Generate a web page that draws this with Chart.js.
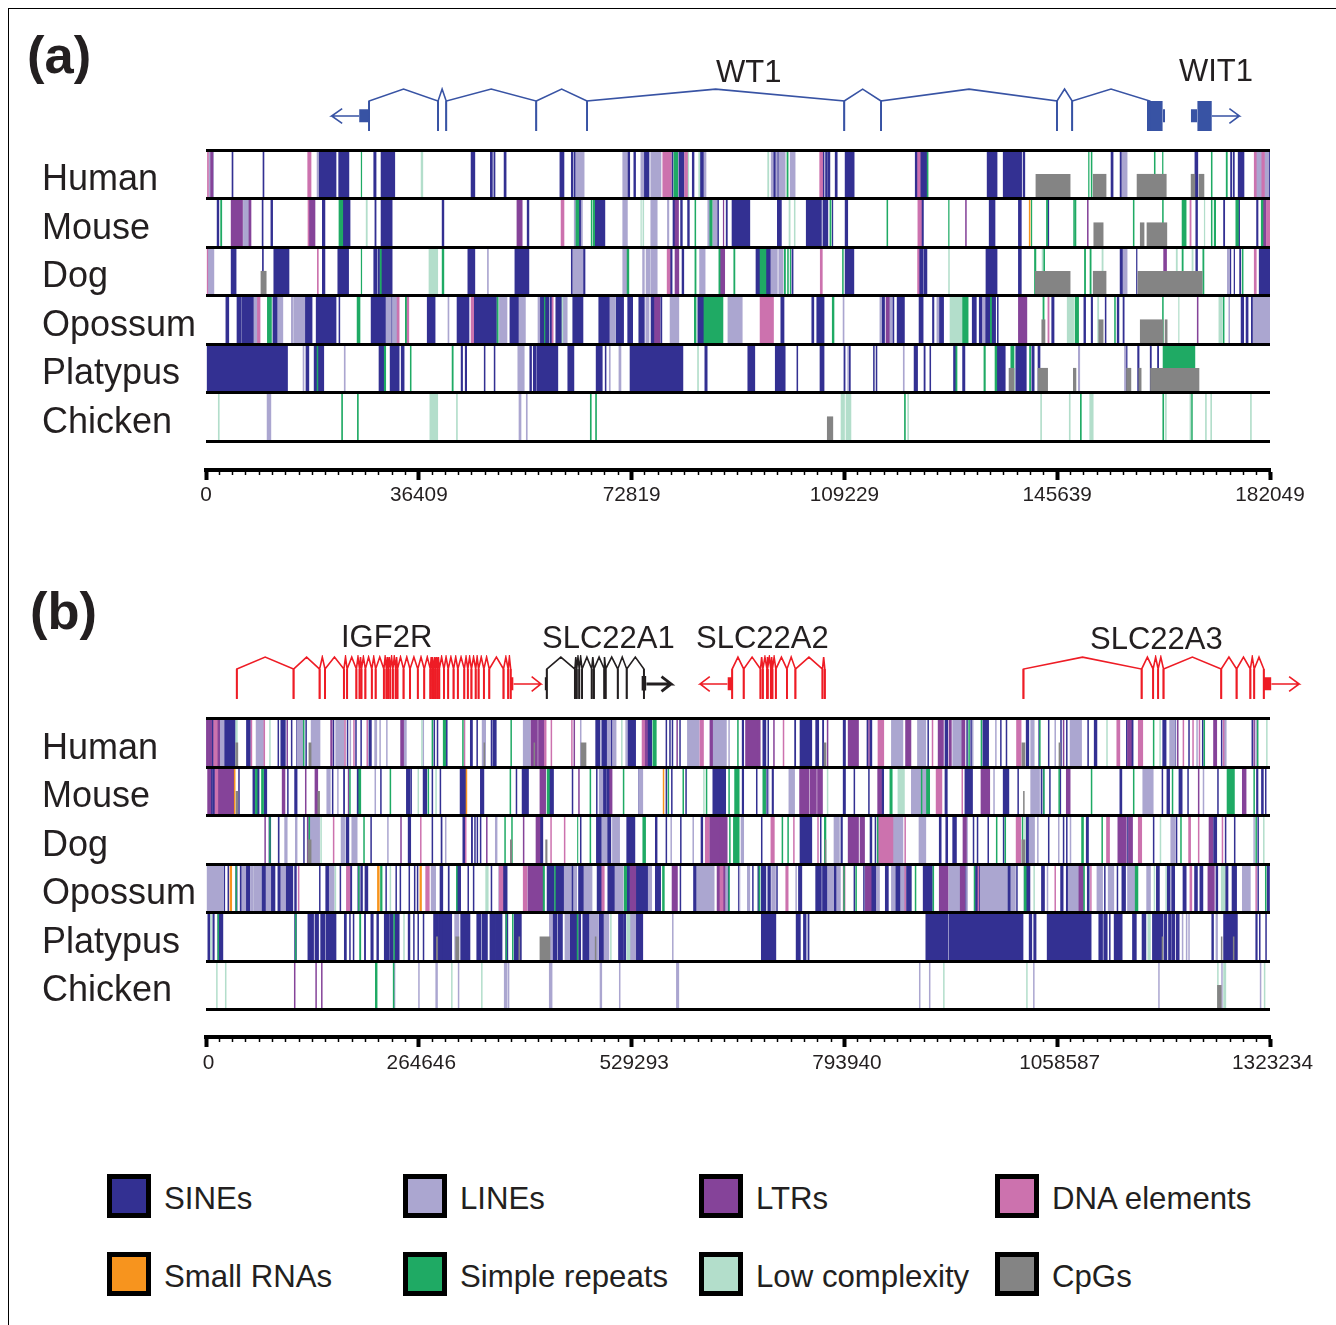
<!DOCTYPE html>
<html><head><meta charset="utf-8">
<script src="https://cdn.jsdelivr.net/npm/chart.js@4/dist/chart.umd.min.js"></script>
<style>
html,body{margin:0;padding:0;background:#fff;width:1336px;height:1325px;overflow:hidden;font-family:"Liberation Sans",Arial,sans-serif;color:#231f20}
canvas{position:absolute}
.t{position:absolute;white-space:nowrap;line-height:1;transform:translateY(-50%)}
.s{position:absolute;width:34px;height:34px;border:5px solid #000}
#frame{position:absolute;left:8px;top:8px;right:-2px;bottom:-2px;border-left:1px solid #000;border-top:1px solid #000}
</style></head><body>
<div id="frame"></div>
<script>
// ---- categories ----
const species=['Human','Mouse','Dog','Opossum','Platypus','Chicken'];
const repeatTypes=['SINEs','LINEs','LTRs','DNA elements','Small RNAs','Simple repeats','Low complexity','CpGs'];
const repeatColors=['#333092','#aba6d0','#854399','#cc72ae','#f7941e','#1faa64','#b3decb','#848484'];
const ticksA=[0,36409,72819,109229,145639,182049];
const ticksB=[0,264646,529293,793940,1058587,1323234];
// Positions in kb. A number is a single narrow element, a pair is [start,end].
// ---- panel (a) ----
const aHumanSINE=[4.45,9.75,[19.3,22.25],[22.7,24.45],[28.7,29.1],[29.95,32.3],[45.35,46],[48.65,49],[49.25,49.45],[51,51.35],[60.55,61.25],[62.5,62.8],[63,63.25],[72.1,72.5],[73.2,73.5],[74.9,75.8],[79.7,79.9],[80.9,81.8],[83.2,83.5],[84.5,85.2],[97.05,97.5],[97.7,98],[105.5,105.75],[106,106.3],[106.4,106.75],[107.65,108],[109.35,110.9],[121.35,121.75],[122.2,123.3],[133.65,135.35],[136.4,139.55],[139.8,140.1],[154.85,155.2],[156.4,156.7],[169.2,169.7],[175.3,175.5],[175.75,175.95],[176.6,177.6],[181.85,182.05]];
const aHumanLINE=[[.5,1.3],[19,19.25],[63.25,64.7],[71.3,72.1],[74.4,74.9],[76.1,77.85],[85.2,85.55],[96.7,97.05],[97.5,97.75],[98,99.1],[99.95,100.8],[156.7,157.6],[179.7,180.65],[181.1,181.85]];
const aHumanLTR=[[.8,1.17]];
const aHumanDNA=[.25,[17.4,17.97],[78.15,79.6],[81.9,82.5],[105,105.5],[121.75,122.2],[179.35,179.7],[180.65,181.1]];
const aHumanSimple=[[26.55,26.65],[80.05,80.7],[99.4,99.6],[123.4,123.55],[151,151.1],[151.45,151.6],[162.25,162.4],[163.65,163.75],[172,172.15],[174.55,174.75]];
const aHumanLow=[[36.8,37.1],[82.5,82.6],[84.3,84.5],[96.1,96.3]];
const aHumanCpG=[[142,147.85],[151.8,154],[159.3,164.3],[168.55,169.2],[169.9,170.75]];
const aMouseSINE=[[1.9,2.2],9.6,[11.1,11.4],[19.9,20.35],[23.4,24.65],[28.9,29.1],[29.95,31.85],[40.4,40.7],[54.95,55.25],[63.8,64.2],[66.55,68.25],[79.9,80.25],[81.2,81.5],[82.4,82.7],[87.5,87.7],[89,89.2],[90,93.05],[97.75,98.45],[102.7,105.3],[105.55,106.4],[107.15,107.25],[109.35,109.8],[122.4,122.75],[134,135],[139,139.5],[144.05,144.2],[169.35,169.65],[174.1,174.3],[176.65,176.85],[179.75,180]];
const aMouseLINE=[[6.4,7.35],[63,63.3],[64.2,64.4],[71.3,72.1],[76.1,77.2],[78.95,79.2],[85.85,86.2],[86.7,87.45]];
const aMouseLTR=[[4.3,6.25],[7.35,7.7],[17.6,18.65],[53.2,54.1],[80.25,80.85],[88.5,88.6],[129.95,130.1],[150.8,150.95],[180.9,181.4]];
const aMouseDNA=[[17.45,17.6],[60.75,61.25],[121.8,122.4],[168.35,168.55],[181.45,182.05]];
const aMouseSmall=[[140.85,141]];
const aMouseSimple=[[2.5,2.7],[22.75,23.4],[63.3,63.8],[65.9,66.05],[66.25,66.5],[83.65,83.8],[86.2,86.6],[106.75,106.95],[116.5,116.65],[127.05,127.15],[141.2,141.3],[143.8,144],[148.45,148.6],[148.7,148.85],[158.65,158.8],[163.65,163.8],[167,167.7],[172,172.15],[172.5,172.75],[176.2,176.65],[180.55,180.85]];
const aMouseLow=[[27.4,27.6],[74.4,74.5],[74.75,74.9],[99.75,99.95],[100.65,100.8],[170.8,170.9]];
const aMouseCpG=[[151.9,153.5],[159.85,160.5],[161,164.4]];
const aDogSINE=[[4.3,5.15],9.65,[11.6,14.2],[19.9,20.35],[22.55,24.4],[28.7,29.2],[29.4,29.7],[30,31.85],[44.8,46],[52.85,55.25],[62.5,62.75],[64.5,64.85],[79.4,79.75],[81.45,81.75],[94.1,94.8],[95.8,96.65],[100.25,100.45],[109.35,110.85],[122,122.7],[122.85,123.35],[133.45,135.35],[139,139.5],[156.4,156.9],[159.2,159.3],[169.35,169.65],[175.2,175.35],[175.9,176],[176.85,177.05],[180.2,182.05]];
const aDogLINE=[[.4,1.35],48.15,[62.75,64.5],[71.3,72.05],[74.7,75],[75.3,76],[76.15,77.2],[84.45,85.4],[96.65,97.75],[98,98.75],[156.9,157.6],[174.75,175.15]];
const aDogLTR=[[80.25,80.9],[87.9,88.75],[163.85,164.35]];
const aDogDNA=[[.2,.3],19.05,[78.9,79.4],[105.1,105.45],[121.75,122],[179.35,179.7]];
const aDogSimple=[[26.55,26.65],[29.8,30],[40.4,40.7],[72.05,72.35],[83.65,83.85],[87.75,87.95],[90.3,90.5],[94.8,95.8],[98.95,99.15],[99.5,99.65],[99.95,100.05],[108.9,109.05],[141.75,142],[143.3,143.5],[150.3,150.5],[151.25,151.45],[167,167.2],[170.55,170.75],[177.3,177.45]];
const aDogLow=[[38.15,39.65],[127.05,127.2],[143.05,143.2],[153.3,153.5],[166,166.2],[168.7,168.9]];
const aDogCpG=[[9.4,10.3],[141.9,147.85],[151.8,154],[159.45,170.45]];
const aOpossumSINE=[[3.4,3.9],[5.3,6.05],[6.2,8.2],[11.45,12.2],[16.9,18.15],[18.85,22.25],[22.75,22.9],[28.25,30.8],[31.7,31.9],[37.85,39.2],[42.95,45],[45.8,49.7],[52,53.55],[57.15,57.9],[58,58.7],[58.9,59.15],[59.85,60.9],[62.75,64.5],[67.2,69.1],[70.15,71.45],[72.15,73],[74.05,75],[76.15,76.75],[77.8,78],[84.15,85.2],[98.35,98.9],[103.65,104],[104.5,105.75],[115.6,116.1],[117.5,117.7],[118.25,119.5],[122,122.7],[124.3,124.55],[125.4,126.2],[131.1,131.8],[132.3,132.85],[133.3,134.2],[134.4,135.1],[135.4,135.55],[144.7,145.1],[150.2,150.5],[151.45,151.7],[153.85,154],[155.9,156.2],[156.9,157.1],[177.1,177.55],[177.95,178.3],[178.85,179.15]];
const aOpossumLINE=[[8.2,8.8],[12.35,13.15],[14.6,14.85],[15,16.9],[30.8,31.7],[31.9,32.7],41.4,[50.2,51.5],[53.55,54.65],[56.8,57.1],[61.05,61.8],[69.1,70],[75.25,75.8],[79.4,80.9],[89.3,91.75],[115.3,115.6],[116.9,117.35],[125.05,125.4],[132.85,133.3],109,[175,175.15],[179.15,182.05]];
const aOpossumLTR=[[76.75,77.65],[116.35,116.9],[139,140.45],[169.6,169.75]];
const aOpossumDNA=[[8.8,9.25],[32.7,33.05],[34.3,34.7],[45.35,45.8],[59.2,59.4],[94.8,95.15],[95.15,97.1],[144.05,144.25]];
const aOpossumSimple=[[10.5,11.2],[25.85,26.35],[34.1,34.3],[49.8,50],[57.9,58],[83.55,83.85],[85.2,88.45],[107.15,107.45],[129.35,130.4],[134.2,134.4],[143.2,143.4],[148.7,149.3],[155.45,155.6],[163.65,163.8],[174.05,174.2]];
const aOpossumLow=[[60.9,61.05],[127.3,129.35],[147.35,148.45],[152.55,152.75],[166.4,166.5],[173.3,173.9]];
const aOpossumCpG=[[143,143.55],[152.75,153.5],[159.85,163.75],[164.1,164.45]];
const aPlatypusSINE=[[.2,13.95],[17.1,17.6],[18.5,20.15],[29.6,30.45],[31.5,32],[32.05,33.05],[33.4,33.9],[43.65,43.9],[44.35,44.6],[47.6,47.75],[49.3,49.45],[55.4,55.7],[56,56.5],[56.65,60.2],[61.9,62.95],[66.75,67.8],[68.3,68.45],[72.55,81.6],[85.35,85.75],[92.7,93.9],[97.4,99.1],[101.1,101.25],[105.05,105.75],[109.15,109.35],[110.05,110.25],[114.2,114.35],[114.65,114.8],[121.15,121.75],[122.85,123.05],[123.85,124],[127.9,128.3],[129.45,129.85],[135.3,136.75],[138.55,140.35],[141.3,141.7],[142.35,142.7],[157.4,157.6],[159.4,159.65],[161.55,161.75],[162.8,163]];
const aPlatypusLINE=[16.6,23.65,[53.35,54.45],69,[70.65,71],119.3,[109.8,109.95],[149.25,149.5],[157.15,157.4]];
const aPlatypusSimple=[[19,19.15],[30.5,30.75],[34.95,35.1],[42.1,42.3],[128.3,128.5],[133.1,133.35],[135,135.3],[137.7,138.25],[140.9,141.1],[163.75,169.2]];
const aPlatypusLow=[84.1];
const aPlatypusCpG=[[137.4,138.25],[142.35,144],[148.4,148.85],[157.5,158.25],[159.6,160],[161.6,169.9]];
const aChickenLINE=[[10.45,11.1],[53.55,53.9],54.8];
const aChickenSimple=[23.2,25.9,65.75,66.65,119.5,149.6,163.7,168.6];
const aChickenLow=[2.1,[38.3,39.65],42.85,[108.65,109.25],[109.5,110.35],120.05,142.8,147.7,151.2,[151.45,151.8],164.15,168.35,171,171.9,178.7];
const aChickenCpG=[[106.3,107.25]];
// ---- panel (b) ----
const bHumanSINE=[[7,9.5],[22.5,36.5],[50.3,55.2],89.4,[93,98.7],106,112.4,124,158,175.5,186,192.4,[202.6,205.7],283.4,287.4,[298,300],[328.7,331.4],336.7,354.5,[356.7,361],[484.6,490],[492.2,498.4],[503.3,505.5],[524.6,534.3],[549,554.3],572,576.5,579.6,589,[666.8,668.7],[692.5,696.3],698.7,[732,733.4],[738.7,753.4],[758.2,762],[766.7,768.2],[792.4,795.3],822,[825.8,828.1],897.6,[919,922.4],946,951,[966.1,973.3],988,995,[1020,1023.3],1035.6,1047.5,1062.8,1070,1096.5,[1104.6,1108],1144.6,[1150.8,1153],[1189.8,1194],1205,1222,1239,1262.6,1300.7];
const bHumanLINE=[[17,22.5],[62.3,71.6],[112.9,120.4],[130.7,141.8],[161.3,172],179,[209.7,212.4],216,224.4,269.7,[245.7,249.2],[343.4,347.8],[394.5,403.3],465.5,[499,503.3],[505.5,510],522,[598.7,613.4],[630,647.2],650,[852.4,866.7],[884.8,895.2],[928.6,940],953,981.8,[1025.6,1030],1055.6,[1074.6,1088.9],[1198.4,1205.5],1232,[1266,1268.8],1305.5];
const bHumanLTR=[[.5,3],[3,7],[14,17],100.5,[155,156.9],[242,245.7],[404.2,412.2],[413.5,420.6],457.5,[545.4,549],585.4,[626.7,630],[671,689],[686.8,689],705.8,772.5,[798.6,811.5],824,[870,876.7],[910.5,917.1],[924,927],[940,943.8],1066,[1146,1150.8],1208,[1253,1257],1303];
const bHumanDNA=[[9.5,14],56,72,172.4,183.5,200,321,[421,423],429,454.5,[542.3,545.4],[614.3,618.7],717.7,[835.7,842.9],903,[1008,1013.7],[1132.7,1136.5],[1159.4,1165],1215,1227,1235,1265];
const bHumanSimple=[121,281,[295,298],319,379,[555.7,560],661,948.5,963.8,1036.5,1178,1241,1307.4];
const bHumanLow=[[37,39],79,268,516.6,1120,1186,1318.8];
const bHumanCpG=[[37,39.6],[128,130.7],345.6,407.8,[466.4,472.6],[768.6,771],[1014.7,1018.5],[1060.8,1062.3]];
const bMouseSINE=[[6,8],[8.5,11.2],40.5,[58.3,60.5],[63.6,66],[72.5,75.6],101.3,[110.2,113.3],157,[171,172.4],[188,191.5],217,[249.2,253.7],254.6,[270,274.5],281,291,[316,323.4],[341.2,345.6],385.6,[393.1,401.1],[427,432.2],455.3,485.5,[494,498],[499,503],[537.9,539.5],572,578.8,596.5,[630.3,645.4],[639.2,646.3],[666.8,668.7],684.4,[697.3,699],[704,705.8],[792.4,795.3],805.8,823.9,[840,842.8],[919,921.9],[943.8,953.3],[991.4,998.5],1009.5,1038.5,1041,1049,1062,[1136.5,1139],1188.9,[1195,1198.4],[1210,1214],1220.8,1258,[1306.4,1308.3],[1312.6,1315],1317.4];
const bMouseLINE=[[150.2,154.6],163.5,210,[489,493.5],[537.9,543.2],699,[724.9,732],[877.2,889],[891,896],979.5,[1025.6,1036.6],[1165,1178],1240];
const bMouseLTR=[[2,6],[14.7,34.7],[94.7,98.2],123.5,[135.5,139],176.8,[415.3,422.4],463.3,[502,505],[738.2,749.6],[751,759.1],[760.5,766.7],[835.3,840],[963.8,974.7],[1069.9,1074.7],1234,[1288.8,1293.5]];
const bMouseDNA=[[11.2,14.7],[908,915.2],940];
const bMouseSmall=[35.2,323.4,568.5];
const bMouseSimple=[[61.4,63.6],[69,71.6],178.5,[190,192.5],228.8,276,378,[424.2,427],477.5,518.8,574.5,593,622,[657.4,663.1],650,[692.5,696],[850.5,853.4],889.5,[896,900],1041.5,1060.5,1100.8,1153.2,1201.5,[1269.8,1279],1303];
const bMouseLow=[263.5,285.6,618.7,772.5,[860.5,868.6]];
const bMouseCpG=[[37.4,39.6],[139,141.3],1016.6];
const bDogSINE=[[78.3,80.5],[89.8,91],121.3,[174.2,177.7],204.8,[251.4,254.6],281,[292.3,293.6],[319.4,322],[330,331.5],[334,335],[337,338],341,[415.3,418.9],465.5,[485.5,492.2],[498.8,503.5],[523.2,533.4],[558.8,561],572,590,[615.6,617.8],690.6,[738.7,753.4],764,[789.6,791.5],[825.8,828.1],832,[911.9,914.3],[920,922.4],[928.6,933.3],954,959,972.3,991.4,1008,[1020,1023.3],1047.5,1066,1070,[1094.7,1097.5],1146,1178,1206.5,[1253,1257],1267.5,1278.8,1308];
const bDogLINE=[[97.8,101],[111.1,113.3],[125.8,141.3],[168,172.4],[181.3,188],225.7,297.6,[359.8,362],[492.2,498.8],[505.5,514.4],578,605.4,[665.4,668.7],[781,787.7],[854.3,866.7],[886.7,895.2],946,[1023.7,1030.4],1034,1060,1074.6,[1199.8,1205.5],[1303,1304]];
const bDogLTR=[73,[126,127],242,348.7,394.5,[410.4,415.3],[626.3,648],[639,647.8],[798.6,811.5],[813.4,819],[941.4,945.7],[1134,1144.6],[1147.3,1152.3],[1247.4,1252]];
const bDogDNA=[158.2,266.6,322.5,[620.9,625.4],[702.5,706.8],730.6,760.6,[836.2,854.3],869,428.6,445.5,[1007.5,1013.3],[1119.9,1123.7],[1159.4,1163.7],[1222,1224.5],1234,1263.6];
const bDogSimple=[[79,80],[128,129],196,371.4,380,[462,462.5],477.5,[543.2,546.7],[656,663.1],651,[656.3,659.2],716.3,723.4,[769,771],834.8,982.8,993.5,1015,[1088.9,1091.3],1114,1212,1305.5];
const bDogLow=[142.6,1018,1186.5,1315];
const bDogCpG=[[126.7,130.7],[378.5,380.2],[422.4,424.2],[770,771],[1014.7,1018.5]];
const bOpossumSINE=[22.3,27.2,[37,38.7],[42.5,44],[49.4,54.7],[69.4,74.7],[80.5,85.8],[89.4,93],[99,108],[110.2,112.4],141,[148.9,153.3],166.6,[179,181.3],[188.8,190.5],[192.4,194.6],[197.7,201.3],223.5,236,241.2,252.3,259,262.6,[291,294.5],[301.2,302.5],[312.3,316.7],325.6,332.3,354.5,[369.2,374.5],[424.2,433.1],[434.4,445.5],[454.4,456.7],[463.3,470],[486.4,492.2],[499.7,508.6],[523.2,526.8],[535.2,549.4],[558.8,565.4],589.5,[606.3,609.8],649,648.7,662,679.6,686.3,[690.6,696.3],[698.7,702],709.6,[736.8,741],[758.2,765.3],[766.7,772.5],[781,784.3],805.8,817.7,[827.2,833.4],[844.8,848.6],[857.2,863.8],[870.5,877.2],[891.9,903.3],[944.7,945.7],957.1,[957.1,962.8],[997,1000.9],1008,[1017.5,1024.7],[1039,1042.8],[1062.8,1066],[1069.9,1072.3],[1096,1098.4],1117.3,1133,[1139,1143.6],[1181.9,1185.7],[1195.2,1199],[1200.9,1204.7],[1215,1219],[1229.4,1233],[1236,1239.8],[1256,1258.3],[1267.4,1271],[1276,1281.7],1308,[1319.7,1322.6]];
const bOpossumLINE=[[1.4,21],[45,49.4],[55.6,58.3],[59.2,68],[74.7,80.5],[93,99],[153.3,159.5],[280,285.6],[364,367],[445.5,454.4],[458,461],[470,480.1],[508.6,518.8],[550,554.3],[610.7,632],663,673.3,[643,648.7],[673.5,676.3],[703.4,708.2],733.4,[773.9,780.5],[784.3,789],[834.3,837.6],[852.4,857.2],[863.8,870.5],[923.8,938],946,[962.8,972],[970.9,996.1],[1000.9,1006.6],1046,[1072.3,1085.6],[1108,1115],[1122,1129],[1146,1155.6],[1169.8,1174.6],[1288.8,1298.8]];
const bOpossumLTR=[[400.2,418.9],[527.7,534.4],[579.6,586.3],[635.6,645.4],[820,827.2],[911.9,922.8],[938,943.8],[1085.6,1091.3],[1246,1254]];
const bOpossumDNA=[[174.6,179],114.7,[273.2,277.7],[364.7,369.2],[394.5,399],[492.2,495.3],[639.2,643],[721,724],[792.4,794.8],869,960,1055.6,[1100,1101],[1223.6,1226],1305.5];
const bOpossumSmall=[[29.8,32],[213.2,215.5],[266,268]];
const bOpossumSimple=[37,189.5,[217,219],311.4,[419.3,421],433.5,[520.1,523.2],[567.7,570],650,[687.6,689],808,955.2,881.9,904,[1017.5,1020],[793,794],1091.5,[1155.6,1159],1317.4];
const bOpossumLow=[160.4,228.8,[347.8,351],1029.4,1179,1193.5,[1262.6,1267.4]];
const bPlatypusSINE=[[2.3,5],[8.5,10.3],[14.7,21],[110.2,112.4],[126.7,133.8],[135.5,140],[142.6,148],[149.3,161.7],[172,174.6],178.5,183,[197,198.5],205,[205.7,208],[212.4,214.6],[221.7,228],[228.8,233],[234.6,240.3],[251.4,253.6],258,263.4,270,[283,289.2],[289.2,294.5],[294.5,305.6],[316.7,328.3],[336.7,342],[343.4,350],[353.1,360.2],[360.2,368.2],[372.7,375.4],[383.3,392.2],[428,431],[431.4,436.6],[438,443.3],[452.7,461],[463.3,466],[468.6,476.6],[489,494.6],[513,518.4],[519.2,522],[534.4,543.2],[690.6,708.7],[733.9,739.2],[743,746.3],[748.6,750],[895.2,922.4],[923.8,1016.1],[1023.7,1027],[1029.4,1032.3],[1046.1,1100.8],[1110.3,1115],[1116.5,1120.8],1123.5,[1129.4,1139.4],[1152.2,1157],[1164.1,1168.9],[1177,1189.8],[1191.3,1195],[1197,1199.8],[1200.9,1204.7],[1206.5,1210.3],[1250.8,1253],[1280,1282],[1265.5,1282.6],[1305.5,1307.4],1310,1317.8];
const bPlatypusLINE=[[309.2,314.5],[427,431],[446.4,452.2],[477.5,488.1],[495,501],[527.2,534.4],580,1214,1219,1222,[1256,1258]];
const bPlatypusSimple=[14.7,111,[191,192.5],233.5,[373,374],381,461.5];
const bPlatypusLow=[5.8,245.7,503,[523.2,527.2],[1171.3,1174.6]];
const bPlatypusCpG=[[286.5,288],[310.5,314.5],[389,390.2],[415.3,427.8],484,1189,1262.6,1277.5];
const bChickenLINE=[234,264.3,[285.7,287.9],313.6,[370.9,374.5],375.8,[426.9,430.4],[490,492.2],514,[585,588],887.1,899.5,1029,1184.6,1263,1311];
const bChickenLTR=[109.8,136.4,143.5];
const bChickenSimple=[[210.6,212.8],232.8];
const bChickenLow=[13,24,305.2,342.5,917.1,1020.4,1257.9,[1265.5,1268.3],1316];
const bChickenCpG=[[1257.9,1262.6]];
// ---- gene models (kb) ----
const wt1Exons=[27.9,39.7,41.1,56.5,65.2,109.2,115.5,145.6,148.2,161.5];
const igf2rExons=[38.3,108.9,141.3,148,171.5,175.5,187,191,193.3,198.2,206.2,211,221.2,224.4,226.6,229.2,232.4,235.9,238.1,245.7,253.7,263.4,271.4,279,281.2,283.4,285.6,287.9,290.1,295.9,301.2,307.9,313.2,321.2,325.6,330.1,335.4,339,345.6,352.3,370,375.8,378.9];
const slc22a1Exons=[423.8,458.8,461,464.2,467.7,479.7,482.4,495.3,497,512.1,523.2,544.6];
const slc22a2Exons=[654.4,668.7,689.6,692.5,697.7,698.7,702.5,704.4,708.7,722.5,733,766.7,769.6];
const slc22a3Exons=[1016.6,1163.6,1177.9,1184.1,1190.8,1262.6,1281.7,1298.8,1303.6,1315.5];

const K=1000;
const typeKeys=['SINE','LINE','LTR','DNA','Small','Simple','Low','CpG'];
const tracksA={Human:[aHumanSINE,aHumanLINE,aHumanLTR,aHumanDNA,[],aHumanSimple,aHumanLow,aHumanCpG],
Mouse:[aMouseSINE,aMouseLINE,aMouseLTR,aMouseDNA,aMouseSmall,aMouseSimple,aMouseLow,aMouseCpG],
Dog:[aDogSINE,aDogLINE,aDogLTR,aDogDNA,[],aDogSimple,aDogLow,aDogCpG],
Opossum:[aOpossumSINE,aOpossumLINE,aOpossumLTR,aOpossumDNA,[],aOpossumSimple,aOpossumLow,aOpossumCpG],
Platypus:[aPlatypusSINE,aPlatypusLINE,[],[],[],aPlatypusSimple,aPlatypusLow,aPlatypusCpG],
Chicken:[[],aChickenLINE,[],[],[],aChickenSimple,aChickenLow,aChickenCpG]};
const tracksB={Human:[bHumanSINE,bHumanLINE,bHumanLTR,bHumanDNA,[],bHumanSimple,bHumanLow,bHumanCpG],
Mouse:[bMouseSINE,bMouseLINE,bMouseLTR,bMouseDNA,bMouseSmall,bMouseSimple,bMouseLow,bMouseCpG],
Dog:[bDogSINE,bDogLINE,bDogLTR,bDogDNA,[],bDogSimple,bDogLow,bDogCpG],
Opossum:[bOpossumSINE,bOpossumLINE,bOpossumLTR,bOpossumDNA,bOpossumSmall,bOpossumSimple,bOpossumLow,[]],
Platypus:[bPlatypusSINE,bPlatypusLINE,[],[],[],bPlatypusSimple,bPlatypusLow,bPlatypusCpG],
Chicken:[[],bChickenLINE,bChickenLTR,[],[],bChickenSimple,bChickenLow,bChickenCpG]};

const W=1336, LEFT=206, RIGHT=1270;
const halfRows=species.flatMap(s=>[s+' upper',s+' lower']);
function el(tag){const e=document.createElement(tag);document.body.appendChild(e);return e}
function text(s,x,y,size,bold){const d=el('div');d.className='t';d.textContent=s;d.style.left=x+'px';d.style.top=y+'px';d.style.fontSize=size+'px';if(bold)d.style.fontWeight='bold';return d}

function trackChart(tracks,tickVals,thinKb,top,height,areaTop,areaBottom,rulerY,labelPad,labelShift){
  const c=el('canvas');c.width=W;c.height=height;c.style.left='0';c.style.top=top+'px';
  const max=tickVals[tickVals.length-1];
  const minorStep=(tickVals[1])/16;
  const minor=[];for(let i=0;i<=80;i++)minor.push(i*minorStep);
  const datasets=typeKeys.map((k,ti)=>{
    const data=[];
    species.forEach(sp=>tracks[sp][ti].forEach(v=>{
      const r=Array.isArray(v)?v:[v,v+thinKb];
      data.push({x:[r[0]*K,Math.min(r[1]*K,max)],y:k==='CpG'?sp+' lower':sp});
    }));
    return {label:repeatTypes[ti],data,backgroundColor:repeatColors[ti],borderWidth:0,borderSkipped:false,
      barPercentage:1,categoryPercentage:1,grouped:false,yAxisID:k==='CpG'?'yHalf':'y',xAxisID:'x',
      order:[8,7,6,5,3,4,2,1][ti]};
  });
  const xH=height-(areaBottom-top)-20;
  new Chart(c,{type:'bar',data:{datasets},
    options:{indexAxis:'y',responsive:false,animation:false,devicePixelRatio:1,
      layout:{padding:{left:42,right:W-RIGHT,top:areaTop-top,bottom:0}},
      plugins:{legend:{display:false},tooltip:{enabled:false}},
      scales:{
        x:{type:'linear',min:0,max,position:'bottom',afterFit:s=>{s.height=xH},
          afterBuildTicks:s=>{s.ticks=tickVals.map(v=>({value:v}))},
          border:{display:true,color:'#000',width:4},
          grid:{drawOnChartArea:false,drawTicks:true,tickLength:10,tickWidth:4,tickColor:'#000'},
          ticks:{autoSkip:false,maxRotation:0,padding:labelPad,labelOffset:labelShift,color:'#231f20',font:{family:'"Liberation Sans"',size:20.8},callback:v=>String(v)}},
        xMinor:{type:'linear',axis:'x',min:0,max,position:'bottom',afterFit:s=>{s.height=20},
          afterBuildTicks:s=>{s.ticks=minor.map(v=>({value:v}))},
          border:{display:false},
          grid:{drawOnChartArea:false,drawTicks:true,tickLength:5,tickWidth:1.5,tickColor:'#000'},
          ticks:{display:false,autoSkip:false}},
        y:{type:'category',labels:species,offset:true,position:'left',afterFit:s=>{s.width=LEFT-42},
          border:{display:false},
          grid:{color:'#000',lineWidth:3,z:1,drawTicks:false},
          ticks:{autoSkip:false,crossAlign:'far',labelOffset:6,padding:0,color:'#231f20',font:{family:'"Liberation Sans"',size:36}}},
        yHalf:{type:'category',axis:'y',labels:halfRows,offset:true,display:false,position:'left',ticks:{autoSkip:false},grid:{display:false}}
      }},
    plugins:[{id:'ruler',afterLayout(ch){
      for(const id of ['x','xMinor']){const s=ch.scales[id];const h=s.bottom-s.top;s.top=rulerY-top;s.bottom=s.top+h}
    }}]
  });
}

function geneChart(len,top,exonSets,rects,arrows){
  const width=W-LEFT,h=46;
  const c=el('canvas');c.width=width;c.height=h;c.style.left=LEFT+'px';c.style.top=top+'px';
  const ds=[];
  const line=(pts,color,w)=>ds.push({data:pts,borderColor:color,borderWidth:w,pointRadius:0,tension:0,fill:false,borderJoinStyle:'miter'});
  exonSets.forEach(([ex,color])=>{
    const pts=[];
    ex.forEach((e,i)=>{
      pts.push({x:e,y:0},{x:e,y:.714});
      if(i<ex.length-1){pts.push({x:(e+ex[i+1])/2,y:1},{x:ex[i+1],y:.714})}
    });
    line(pts,color,1.6);
    ex.forEach(e=>line([{x:e,y:0},{x:e,y:.714}],color,1.9));
  });
  rects.forEach(([s,e,lo,hi,color])=>ds.push({data:[{x:s,y:hi},{x:e,y:hi}],borderWidth:0,borderColor:color,backgroundColor:color,pointRadius:0,fill:{value:lo}}));
  arrows.forEach(([from,tip,back,color,w])=>{
    const m=.357,d=.175;
    line([{x:from,y:m},{x:tip,y:m},{x:back,y:m+d},{x:tip,y:m},{x:back,y:m-d}],color,w);
  });
  new Chart(c,{type:'line',data:{datasets:ds},options:{responsive:false,animation:false,devicePixelRatio:1,
    layout:{padding:0},plugins:{legend:{display:false},tooltip:{enabled:false}},
    scales:{x:{type:'linear',display:false,min:0,max:len*(W-LEFT)/(RIGHT-LEFT)},y:{type:'linear',display:false,min:-.05,max:1.05}}}});
}

const blue='#3853a4',red='#ee1c25',black='#231f20';
trackChart(tracksA,ticksA,.17,0,530,150,441,470,3,0);
trackChart(tracksB,ticksB,1.05,560,530,718.5,1009.5,1037,4,2.5);
geneChart(182.049,87,[[wt1Exons,blue]],
  [[26.2,27.9,.21,.52,blue],[161,163.7,0,.714,blue],[163.7,164.1,.21,.52,blue],[168.5,169.6,.21,.52,blue],[169.6,172.1,0,.714,blue]],
  [[26.2,21.5,23.3,blue,1.6],[172.1,176.8,175.1,blue,1.6]]);
geneChart(1323.234,654.5,[[igf2rExons,red],[slc22a1Exons,black],[slc22a2Exons,red],[slc22a3Exons,red]],
  [[378.9,382.5,.21,.52,red],[421.1,423.8,.21,.52,black],[541.5,547.7,.2,.55,black],[648.5,654.2,.21,.52,red],[1315.5,1325,.21,.52,red]],
  [[382.5,416.5,405,red,1.6],[547.7,578.5,566.5,black,2.8],[648.5,614.5,626.5,red,1.6],[1325,1359.5,1347,red,1.6]]);

text('(a)',27,55,52.5,true);text('(b)',30,611,52.5,true);
text('WT1',716,71,31);text('WIT1',1179,70,31);
text('IGF2R',341,636,31);text('SLC22A1',542,637,31);text('SLC22A2',696,637,31);text('SLC22A3',1090,638,31);

const legendCols=[107,403,699,995], legendRows=[[1174,0,1,2,3],[1252,4,5,6,7]];
legendRows.forEach(([y,...idx])=>idx.forEach((ti,i)=>{
  const s=el('div');s.className='s';s.style.left=legendCols[i]+'px';s.style.top=y+'px';s.style.background=repeatColors[ti];
  text(repeatTypes[ti],legendCols[i]+57,y+25,31.2);
}));
</script>
</body></html>
